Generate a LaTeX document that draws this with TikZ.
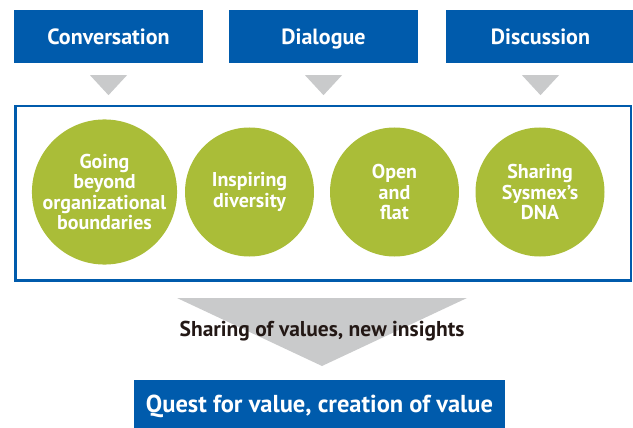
\documentclass[tikz,border=0pt]{standalone}
\usepackage{fontspec}
\setmainfont{PT Sans}
\usetikzlibrary{calc}
\definecolor{sysblue}{HTML}{005BAC}
\definecolor{sysgreen}{HTML}{AABD38}
\definecolor{sysgray}{HTML}{C9CACB}
\definecolor{systext}{HTML}{231815}
\begin{document}
\begin{tikzpicture}[x=1pt,y=-1pt,
  topbox/.style={fill=sysblue, text=white, minimum width=189pt, minimum height=53pt, inner sep=0pt, text height=17pt, text depth=0pt, font=\bfseries\fontsize{22}{24}\selectfont},
  circ/.style={circle, fill=sysgreen, text=white, minimum size=129pt, inner sep=0pt, align=center, font=\bfseries\fontsize{20}{20.5}\selectfont},
  frame/.style={draw=sysblue, line width=2.3pt, minimum width=615.4pt, minimum height=174.4pt, inner sep=0pt},
  tri/.style={fill=sysgray, draw=none},
  midtext/.style={text=systext, font=\bfseries\fontsize{21.5}{24}\selectfont},
  botbox/.style={fill=sysblue, text=white, minimum width=371pt, minimum height=52pt, inner sep=0pt, font=\bfseries\fontsize{24.5}{28}\selectfont}
]
\useasboundingbox (0,0) rectangle (633,428);
% top boxes
\node[topbox] (c1) at (108.5,36.5) {Conversation};
\node[topbox] (c2) at (323.5,36.5) {Dialogue};
\node[topbox] (c3) at (540.5,36.5) {Discussion};
% small triangles
\foreach \n in {c1,c2,c3}{
  \fill[tri] ($(\n.south)+(-18.5,12)$) -- ($(\n.south)+(18.5,12)$) -- ($(\n.south)+(0,32)$) -- cycle;
}
% frame
\node[frame] (fr) at (323.15,193.35) {};
% circles
\node[circ] (g1) at (104.5,192) {Going\\beyond\\organizational\\boundaries};
\node[circ] (g2) at (249.5,192) {Inspiring\\diversity};
\node[circ] (g3) at (394.5,192) {Open\\and\\flat};
\node[circ] (g4) at (540,192) {Sharing\\Sysmex’s\\DNA};
% big triangle
\fill[tri] (177,298) -- (467,298) -- (322,366) -- cycle;
\node[midtext] (mt) at (322,331) {Sharing of values, new insights};
% bottom box
\node[botbox] (bb) at (319.5,406) {Quest for value, creation of value};
\end{tikzpicture}
\end{document}
